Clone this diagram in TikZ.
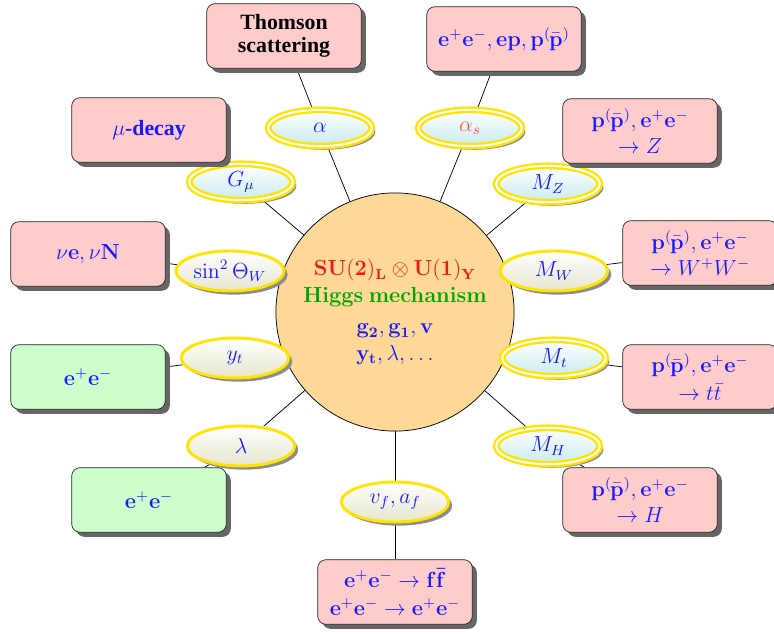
\documentclass[12pt,tikz,border=0pt]{standalone}
\usepackage{amsmath}
\usepackage[no-math]{fontspec}
\setmainfont{Liberation Serif}
\usepackage{tikz}
\usepackage{xcolor}
\usetikzlibrary{shapes.geometric,shadows,backgrounds}

\definecolor{boxpink}{RGB}{255,204,204}
\definecolor{boxgreen}{RGB}{204,255,204}
\definecolor{coreorange}{RGB}{253,216,150}
\definecolor{ringyellow}{RGB}{255,228,0}
\definecolor{ellcyan}{RGB}{200,236,238}
\definecolor{ellbeige}{RGB}{230,230,205}
\definecolor{txtblue}{RGB}{25,25,255}
\definecolor{txtred}{RGB}{240,25,25}
\definecolor{txtorange}{RGB}{255,85,60}
\definecolor{txtgreen}{RGB}{0,165,0}
\newcommand{\ppbar}{\mathbf{p}^{(}\mkern-1.5mu\bar{\mathbf{p}}^{)}}

\begin{document}
\begin{tikzpicture}[x=0.55pt, y=-0.55pt,
    box/.style={rectangle, rounded corners=4.5pt, draw=black!85, fill=boxpink,
        minimum width=85pt, minimum height=35.5pt, align=center, text=txtblue,
        drop shadow={shadow xshift=2.5pt, shadow yshift=-2.5pt, fill=black!60, opacity=1}},
    greenbox/.style={box, fill=boxgreen},
    ell/.style={ellipse, draw=ringyellow, line width=1.6pt, top color=white,
        bottom color=ellbeige, minimum width=59pt, minimum height=22pt, inner sep=1pt,
        text=txtblue, drop shadow={shadow xshift=2pt, shadow yshift=-2pt, fill=black!45, opacity=1}},
    dell/.style={ell, line width=1.3pt, double=white, double distance=1.1pt,
        bottom color=ellcyan, minimum width=57pt, minimum height=20pt},
    core/.style={circle, draw, fill=coreorange, minimum size=131pt, align=center, text=txtblue}]
    \useasboundingbox (0,0) rectangle (774,633);
    % electroweak core
    \node[core] (sm) at (395,312) {{\color{txtred}$\mathbf{SU(2)_L\otimes U(1)_Y}$}\\
        {\color{txtgreen}$\mathbf{Higgs\ mechanism}$}\\[3pt]
        $\mathbf{g_2, g_1, v}$\\ $\mathbf{y_t}, \lambda, \ldots$};
    % parameters
    \node[dell] (alpha) at (320,128) {$\alpha$};
    \node[dell, text=txtorange] (alphas) at (470,128) {$\alpha_s$};
    \node[dell] (gmu) at (241,182) {$G_\mu$};
    \node[dell] (mz) at (548,184) {$M_Z$};
    \node[ell] (sw) at (230,271) {$\sin^2\Theta_W$};
    \node[ell] (mw) at (554,271) {$M_W$};
    \node[ell] (yt) at (235,358) {$y_t$};
    \node[dell] (mt) at (554,358) {$M_t$};
    \node[ell] (lam) at (241,446) {$\lambda$};
    \node[dell] (mh) at (548,446) {$M_H$};
    \node[ell] (vfaf) at (395,502) {$v_f, a_f$};
    % measurements
    \node[box, text=black] (thomson) at (284,36) {\textbf{Thomson}\\[-2pt]\textbf{scattering}};
    \node[box] (colliders) at (504,39) {$\mathbf{e^+e^-, ep,}\,\ppbar$};
    \node[box] (mudecay) at (149,130) {$\mu$\textbf{-decay}};
    \node[box] (zprod) at (640,131) {$\ppbar\mathbf{, e^+e^-}$\\ $\to Z$};
    \node[box] (nuscat) at (88,254) {$\nu\mathbf{e}, \nu\mathbf{N}$};
    \node[box] (wprod) at (700,253) {$\ppbar\mathbf{, e^+e^-}$\\ $\to W^+W^-$};
    \node[greenbox] (ee1) at (88,377) {$\mathbf{e^+e^-}$};
    \node[box] (ttprod) at (700,377) {$\ppbar\mathbf{, e^+e^-}$\\[1pt] $\to t\bar{t}$};
    \node[greenbox] (ee2) at (149,500) {$\mathbf{e^+e^-}$};
    \node[box] (hprod) at (640,500) {$\ppbar\mathbf{, e^+e^-}$\\ $\to H$};
    \node[box] (ffprod) at (395,592) {$\mathbf{e^+e^-\to f\bar{f}}$\\[1pt] $\mathbf{e^+e^-\to e^+e^-}$};
    % connectors
    \begin{scope}[on background layer, thick]
        \draw (sm) -- (alpha) -- (thomson);
        \draw (sm) -- (alphas) -- (colliders);
        \draw (sm) -- (gmu) -- (mudecay);
        \draw (sm) -- (mz) -- (zprod);
        \draw (sm) -- (sw) -- (nuscat);
        \draw (sm) -- (mw) -- (wprod);
        \draw (sm) -- (yt) -- (ee1);
        \draw (sm) -- (mt) -- (ttprod);
        \draw (sm) -- (lam) -- (ee2);
        \draw (sm) -- (mh) -- (hprod);
        \draw (sm) -- (vfaf) -- (ffprod);
    \end{scope}
\end{tikzpicture}
\end{document}
